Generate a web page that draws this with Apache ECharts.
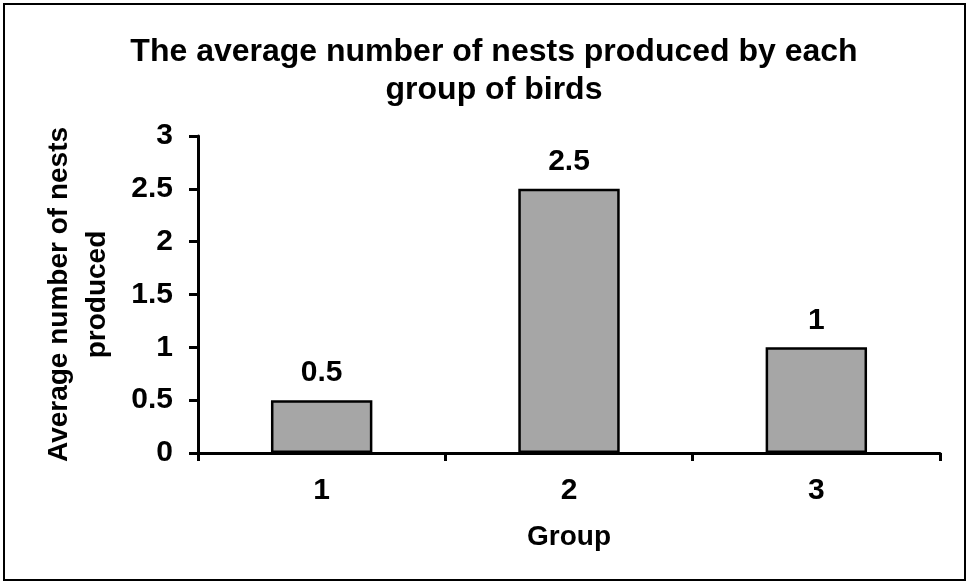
<!DOCTYPE html>
<html>
<head>
<meta charset="utf-8">
<script src="https://cdn.jsdelivr.net/npm/echarts@6/dist/echarts.min.js"></script>
<style>
  html, body { margin: 0; padding: 0; background: #fff; }
  #main { width: 969px; height: 583px; }
</style>
</head>
<body>
<div id="main"></div>
<script>
// data
var groups = ['1', '2', '3'];
var nests = [0.5, 2.5, 1];
var yTicks = [0, 0.5, 1, 1.5, 2, 2.5, 3];

var chart = echarts.init(document.getElementById('main'));
var font = 'Liberation Sans, Arial, sans-serif';

var option = {
    animation: false,
    backgroundColor: '#fff',
    title: {
        text: 'The average number of nests produced by each\ngroup of birds',
        left: 489,
        top: 28,
        textAlign: 'center',
        textStyle: { fontFamily: font, fontSize: 32, fontWeight: 'bold', color: '#000', lineHeight: 38 }
    },
    graphic: [{
        type: 'rect',
        shape: { x: 4, y: 4, width: 961, height: 576 },
        style: { fill: 'none', stroke: '#000', lineWidth: 2 },
        silent: true
    }],
    grid: { left: 198, right: 29, top: 136, bottom: 130 },
    xAxis: {
        type: 'category',
        data: groups,
        name: 'Group',
        nameLocation: 'middle',
        nameGap: 70,
        nameTextStyle: { fontFamily: font, fontSize: 28, fontWeight: 'bold', color: '#000' },
        axisLine: { lineStyle: { color: '#000', width: 3 } },
        axisTick: { show: true, length: 8, lineStyle: { color: '#000', width: 3 } },
        axisLabel: { fontFamily: font, fontSize: 30, fontWeight: 'bold', color: '#000', margin: 23 }
    },
    yAxis: {
        type: 'value',
        min: yTicks[0],
        max: yTicks[yTicks.length - 1],
        interval: 0.5,
        name: 'Average number of nests\nproduced',
        nameLocation: 'middle',
        nameGap: 82,
        nameTextStyle: { fontFamily: font, fontSize: 28, fontWeight: 'bold', color: '#000', lineHeight: 38 },
        axisLine: { show: true, lineStyle: { color: '#000', width: 3 } },
        axisTick: { show: true, length: 9, lineStyle: { color: '#000', width: 3 } },
        splitLine: { show: false },
        axisLabel: { fontFamily: font, fontSize: 30, fontWeight: 'bold', color: '#000', margin: 25 }
    },
    series: [{
        type: 'bar',
        data: nests,
        barWidth: '41%',
        itemStyle: { color: '#a6a6a6', borderColor: '#000', borderWidth: 2.5 },
        label: {
            show: true,
            position: 'top',
            distance: 12,
            fontFamily: font,
            fontSize: 30,
            fontWeight: 'bold',
            color: '#000'
        }
    }]
};
chart.setOption(option);
</script>
</body>
</html>
